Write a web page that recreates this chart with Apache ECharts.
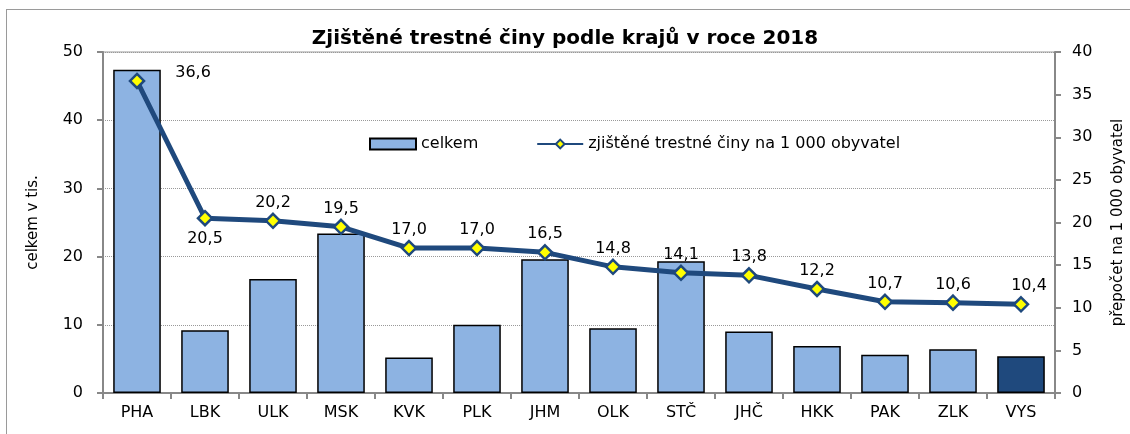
<!DOCTYPE html>
<html>
<head>
<meta charset="utf-8">
<script src="https://cdn.jsdelivr.net/npm/echarts@6/dist/echarts.min.js"></script>
<style>
  html, body { margin: 0; padding: 0; background: #fff; overflow: hidden; }
  #frame { position: absolute; left: 6px; top: 9px; right: 0; bottom: 0; border-left: 1px solid #9a9a9a; border-top: 1px solid #9a9a9a; }
  #chart { position: absolute; left: 0; top: 0; width: 1130px; height: 434px; }
</style>
</head>
<body>
<div id="frame"></div>
<div id="chart"></div>
<script>
var kraje = ["PHA", "LBK", "ULK", "MSK", "KVK", "PLK", "JHM", "OLK", "STČ", "JHČ", "HKK", "PAK", "ZLK", "VYS"];
// celkem v tis.
var celkem = [47.4, 9.2, 16.7, 23.4, 5.2, 10.0, 19.6, 9.5, 19.3, 9.0, 6.9, 5.6, 6.4, 5.4];
// na 1 000 obyvatel
var naTisic = [36.6, 20.5, 20.2, 19.5, 17.0, 17.0, 16.5, 14.8, 14.1, 13.8, 12.2, 10.7, 10.6, 10.4];

var font = "Tahoma, 'DejaVu Sans', sans-serif";
var chart = echarts.init(document.getElementById("chart"));

var barData = celkem.map(function (v, i) {
    if (kraje[i] == "VYS") {
        return { value: v, itemStyle: { color: "#1f497d" } };
    }
    return v;
});

var lineData = naTisic.map(function (v, i) {
    if (i == 0) {
        return { value: v, label: { position: "right", distance: 30, offset: [0, -8] } };
    }
    if (i == 1) {
        return { value: v, label: { position: "bottom", distance: 4 } };
    }
    if (i == naTisic.length - 1) {
        return { value: v, label: { position: "top", offset: [8, 0] } };
    }
    return v;
});

var option = {
    animation: false,
    textStyle: { fontFamily: font },
    title: {
        text: "Zjištěné trestné činy podle krajů v roce 2018",
        left: "center",
        top: 24,
        textStyle: { fontSize: 20, fontWeight: "bold", color: "#000", fontFamily: font }
    },
    legend: {
        left: 369,
        top: 136,
        padding: 0,
        itemGap: 58,
        itemWidth: 46,
        itemHeight: 11,
        textStyle: { fontSize: 16, color: "#000" },
        data: [
            { name: "celkem", icon: "rect" },
            { name: "zjištěné trestné činy na 1 000 obyvatel" }
        ]
    },
    grid: {
        left: 103, right: 75, top: 52, bottom: 41,
        outerBoundsMode: "none",
        show: true, borderColor: "#999", borderWidth: 1
    },
    xAxis: {
        type: "category",
        data: kraje,
        axisLine: { lineStyle: { color: "#888", width: 2 } },
        axisTick: { show: true, length: 6, lineStyle: { color: "#888", width: 2 } },
        axisLabel: { fontSize: 16, color: "#000", margin: 12 }
    },
    yAxis: [{
        type: "value",
        min: 0, max: 50, interval: 10,
        name: "celkem v tis.",
        nameLocation: "middle",
        nameGap: 62,
        nameTextStyle: { fontSize: 15, color: "#000" },
        axisLine: { show: true, lineStyle: { color: "#888", width: 2 } },
        axisTick: { show: true, length: 6, lineStyle: { color: "#888", width: 2 } },
        axisLabel: { fontSize: 16, color: "#000", margin: 20 },
        splitLine: { show: true, lineStyle: { color: "#999", type: "dotted", width: 1 } }
    }, {
        type: "value",
        min: 0, max: 40, interval: 5,
        name: "přepočet na 1 000 obyvatel",
        nameLocation: "middle",
        nameGap: 56,
        nameTextStyle: { fontSize: 15, color: "#000" },
        axisLine: { show: true, lineStyle: { color: "#888", width: 2 } },
        axisTick: { show: true, length: 6, lineStyle: { color: "#888", width: 2 } },
        axisLabel: { fontSize: 16, color: "#000", margin: 17 },
        splitLine: { show: false }
    }],
    series: [{
        name: "celkem",
        type: "bar",
        data: barData,
        barCategoryGap: "30%",
        itemStyle: { color: "#8db3e2", borderColor: "#000", borderWidth: 1.5 }
    }, {
        name: "zjištěné trestné činy na 1 000 obyvatel",
        type: "line",
        yAxisIndex: 1,
        data: lineData,
        symbol: "diamond",
        symbolSize: 14,
        lineStyle: { color: "#1f497d", width: 5 },
        itemStyle: { color: "#ffff00", borderColor: "#1f497d", borderWidth: 2.5 },
        label: {
            show: true,
            position: "top",
            distance: 2,
            fontSize: 16,
            color: "#000",
            formatter: function (p) { return p.value.toFixed(1).replace(".", ","); }
        },
        z: 5
    }]
};

chart.setOption(option);
</script>
</body>
</html>
